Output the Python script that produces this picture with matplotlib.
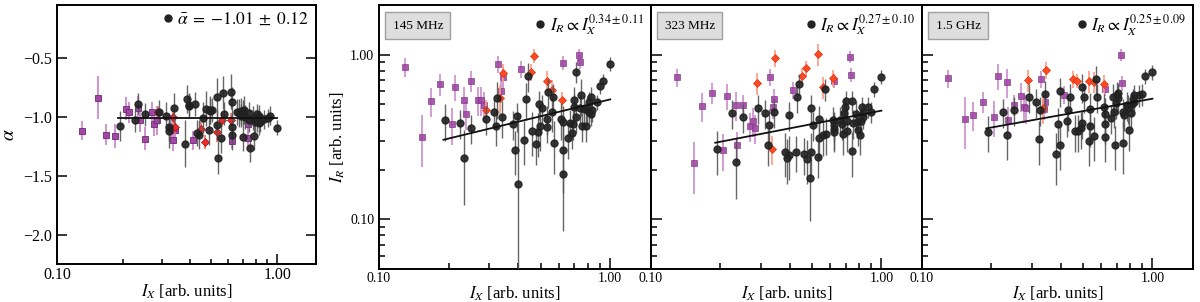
import numpy as np
import matplotlib.pyplot as plt
from matplotlib.ticker import FixedLocator, LogLocator, NullFormatter, FuncFormatter, MultipleLocator

plt.rcParams['font.family'] = ['Liberation Serif', 'DejaVu Serif']
plt.rcParams['mathtext.fontset'] = 'stix'

# --- black circles: I_X and I_R at the three frequencies, spectral index
black_ix = [0.193, 0.225, 0.234, 0.250, 0.291, 0.313, 0.322, 0.324, 0.341, 0.380,
            0.389, 0.397, 0.399, 0.424, 0.430, 0.440, 0.461, 0.475, 0.488, 0.493,
            0.496, 0.505, 0.530, 0.534, 0.536, 0.558, 0.567, 0.573, 0.614, 0.623,
            0.624, 0.625, 0.659, 0.672, 0.684, 0.688, 0.697, 0.700, 0.709, 0.712,
            0.743, 0.746, 0.753, 0.773, 0.784, 0.794, 0.808, 0.813, 0.827, 0.829,
            0.835, 0.875, 0.905, 0.926, 1.00]
black_ir_145 = [0.401, 0.385, 0.236, 0.359, 0.409, 0.446, 0.371, 0.543, 0.416, 0.378,
                0.264, 0.424, 0.164, 0.305, 0.536, 0.739, 0.346, 0.285, 0.341, 0.502,
                0.371, 0.477, 0.362, 0.409, 0.593, 0.451, 0.556, 0.292, 0.407, 0.392,
                0.262, 0.189, 0.310, 0.385, 0.333, 0.379, 0.531, 0.479, 0.788, 0.416,
                0.477, 0.569, 0.371, 0.468, 0.369, 0.468, 0.518, 0.451, 0.556, 0.434,
                0.459, 0.514, 0.642, 0.692, 0.878]
black_ir_323 = [0.266, 0.442, 0.223, 0.418, 0.477, 0.442, 0.283, 0.372, 0.449, 0.258,
                0.235, 0.430, 0.246, 0.258, 0.551, 0.667, 0.249, 0.234, 0.179, 0.477,
                0.256, 0.374, 0.239, 0.409, 0.313, 0.325, 0.616, 0.328, 0.401, 0.374,
                0.341, 0.352, 0.401, 0.378, 0.328, 0.440, 0.483, 0.523, 0.396, 0.344,
                0.523, 0.260, 0.386, 0.434, 0.388, 0.349, 0.327, 0.396, 0.483, 0.440,
                0.416, 0.483, 0.451, 0.616, 0.736]
black_ir_1500 = [0.341, 0.446, 0.327, 0.461, 0.551, 0.516, 0.306, 0.461, 0.574, 0.248,
                 0.378, 0.602, 0.283, 0.394, 0.461, 0.551, 0.344, 0.344, 0.357, 0.386,
                 0.633, 0.551, 0.300, 0.466, 0.369, 0.321, 0.708, 0.551, 0.483, 0.434,
                 0.381, 0.318, 0.411, 0.551, 0.451, 0.283, 0.507, 0.569, 0.543, 0.582,
                 0.451, 0.289, 0.430, 0.495, 0.472, 0.349, 0.440, 0.499, 0.536, 0.569,
                 0.518, 0.569, 0.577, 0.742, 0.781]
black_alpha = [-1.077, -1.026, -0.887, -0.980, -0.960, -0.995, -1.088, -1.122, -0.924, -1.229,
               -0.847, -0.896, -0.910, -0.890, -1.136, -1.150, -1.008, -0.932, -1.116, -0.944,
               -0.952, -0.940, -0.834, -1.068, -1.348, -1.181, -0.796, -0.972, -0.786, -0.870,
               -1.088, -1.150, -0.962, -0.970, -0.950, -0.990, -1.170, -0.960, -0.940, -1.000,
               -0.970, -1.030, -1.263, -1.010, -1.165, -1.040, -0.980, -1.030, -0.990, -1.050,
               -1.040, -1.020, -1.010, -0.990, -1.091]
# relative errors on I_R, absolute errors on alpha
black_ferr_145 = [0.25, 0.20, 0.48, 0.20, 0.20, 0.20, 0.25, 0.25, 0.25, 0.20,
                  0.30, 0.20, 1.70, 0.30, 0.25, 0.20, 0.30, 0.25, 0.30, 0.20,
                  0.30, 0.20, 0.20, 0.20, 0.20, 0.25, 0.20, 0.35, 0.25, 0.25,
                  0.45, 0.55, 0.25, 0.20, 0.20, 0.20, 0.20, 0.20, 0.15, 0.20,
                  0.20, 0.25, 0.20, 0.20, 0.20, 0.20, 0.15, 0.15, 0.15, 0.15,
                  0.15, 0.10, 0.10, 0.10, 0.10]
black_ferr_323 = [0.30, 0.20, 0.40, 0.20, 0.20, 0.20, 0.25, 0.25, 0.20, 0.30,
                  0.30, 0.20, 0.30, 0.25, 0.20, 0.15, 0.25, 0.30, 0.45, 0.20,
                  0.30, 0.20, 0.25, 0.20, 0.25, 0.25, 0.15, 0.25, 0.20, 0.20,
                  0.25, 0.25, 0.20, 0.20, 0.25, 0.20, 0.15, 0.15, 0.20, 0.25,
                  0.15, 0.30, 0.20, 0.20, 0.20, 0.20, 0.25, 0.20, 0.15, 0.15,
                  0.15, 0.15, 0.15, 0.10, 0.10]
black_ferr_1500 = [0.25, 0.20, 0.30, 0.20, 0.20, 0.20, 0.30, 0.20, 0.20, 0.35,
                   0.25, 0.20, 0.30, 0.20, 0.25, 0.20, 0.25, 0.25, 0.25, 0.20,
                   0.20, 0.20, 0.30, 0.25, 0.25, 0.30, 0.20, 0.20, 0.20, 0.25,
                   0.25, 0.30, 0.20, 0.20, 0.20, 0.30, 0.20, 0.20, 0.20, 0.15,
                   0.20, 0.35, 0.20, 0.20, 0.20, 0.25, 0.20, 0.15, 0.15, 0.15,
                   0.15, 0.15, 0.15, 0.10, 0.10]
black_alpha_err = [0.13, 0.10, 0.09, 0.10, 0.10, 0.12, 0.12, 0.14, 0.13, 0.20,
                   0.12, 0.10, 0.10, 0.10, 0.11, 0.12, 0.13, 0.15, 0.12, 0.12,
                   0.11, 0.10, 0.16, 0.13, 0.14, 0.13, 0.14, 0.10, 0.15, 0.12,
                   0.12, 0.13, 0.11, 0.12, 0.11, 0.10, 0.12, 0.10, 0.12, 0.10,
                   0.10, 0.10, 0.12, 0.10, 0.12, 0.10, 0.09, 0.10, 0.09, 0.10,
                   0.09, 0.08, 0.08, 0.08, 0.06]

# --- purple squares
sq_ix = [0.130, 0.153, 0.167, 0.184, 0.206, 0.213, 0.233, 0.237, 0.251, 0.269,
         0.277, 0.284, 0.328, 0.338, 0.342, 0.413, 0.623, 0.733, 0.738]
sq_ir_145 = [0.846, 0.318, 0.523, 0.660, 0.379, 0.636, 0.533, 0.438, 0.695, 0.530,
             0.530, 0.495, 0.878, 0.605, 0.732, 0.815, 0.894, 1.000, 0.907]
sq_ir_323 = [0.728, 0.219, 0.490, 0.588, 0.264, 0.561, 0.492, 0.283, 0.492, 0.369,
             0.396, 0.360, 0.735, 0.479, 0.535, 0.610, 0.695, 0.972, 0.756]
sq_ir_1500 = [0.718, 0.409, 0.428, 0.518, 0.420, 0.742, 0.679, 0.401, 0.497, 0.561,
              0.479, 0.472, 0.708, 0.470, 0.516, 0.572, 0.622, 1.000, 0.670]
sq_alpha = [-1.119, -0.836, -1.150, -1.161, -0.930, -0.963, -0.927, -1.026, -1.184, -0.957,
            -1.060, -1.031, -1.094, -1.193, -1.116, -1.198, -1.201, -1.065, -1.181]
sq_ferr = [0.13, 0.35, 0.20, 0.15, 0.25, 0.18, 0.20, 0.20, 0.15, 0.20,
           0.20, 0.20, 0.12, 0.15, 0.15, 0.12, 0.10, 0.08, 0.10]
sq_alpha_err = [0.08, 0.18, 0.09, 0.10, 0.10, 0.09, 0.10, 0.10, 0.10, 0.08,
                0.10, 0.12, 0.10, 0.10, 0.10, 0.08, 0.07, 0.08, 0.09]

# --- red diamonds
dm_ix = [0.289, 0.335, 0.345, 0.453, 0.470, 0.532, 0.560, 0.618]
dm_ir_145 = [0.461, 0.543, 0.778, 0.788, 0.986, 0.692, 0.610, 0.530]
dm_ir_323 = [0.670, 0.267, 0.950, 0.742, 0.826, 1.005, 0.634, 0.718]
dm_ir_1500 = [0.702, 0.477, 0.803, 0.712, 0.692, 0.692, 0.686, 0.667]
dm_alpha = [-0.957, -1.003, -1.088, -1.102, -1.210, -1.131, -1.023, -1.029]
dm_ferr = [0.15, 0.20, 0.12, 0.12, 0.10, 0.15, 0.15, 0.12]
dm_alpha_err = [0.05, 0.08, 0.06, 0.06, 0.06, 0.08, 0.06, 0.06]

# --- fits
freq_labels = ['145 MHz', '323 MHz', '1.5 GHz']
fit_norm = [0.535, 0.457, 0.540]
fit_slope = [0.34, 0.27, 0.25]
fit_slope_err = [0.11, 0.10, 0.09]
fit_range = [0.19, 1.0]
alpha_mean = -1.01
alpha_scatter = 0.12

BLACK = '#222222'
BLACK_E = '#555555'
PURPLE = '#a346a8'
PURPLE_E = '#c98acb'

fig = plt.figure(figsize=(12, 3.02), dpi=100)
W, H = 1200.0, 302.0
ax0 = fig.add_axes([57 / W, 1 - 264 / H, 259 / W, 259 / H])
axes = [fig.add_axes([l / W, 1 - 269 / H, w / W, 264 / H])
        for l, w in ((379, 272), (651, 271), (922, 271))]


def style_spines(ax):
    for s in ax.spines.values():
        s.set_linewidth(1.4)


def log_x(ax):
    ax.set_xscale('log')
    ax.set_xlim(0.1, 1.5)
    ax.xaxis.set_major_locator(FixedLocator([0.1, 1.0]))
    ax.xaxis.set_major_formatter(FuncFormatter(lambda v, p: '%.2f' % v))
    ax.xaxis.set_minor_locator(LogLocator(base=10, subs=np.arange(2, 10)))
    ax.xaxis.set_minor_formatter(NullFormatter())


# ---------------- left panel: spectral index
ax0.errorbar(sq_ix, sq_alpha, yerr=sq_alpha_err, fmt='s', ms=4.5, mfc=PURPLE, mec='#6e2a70',
             mew=0.6, ecolor=PURPLE_E, elinewidth=1.3, capsize=0, zorder=2)
ax0.errorbar(dm_ix, dm_alpha, yerr=dm_alpha_err, fmt='D', ms=3.8, mfc='#ec2a2a', mec='#a01010',
             mew=0.5, ecolor='#f07070', elinewidth=1.2, capsize=0, zorder=3)
ax0.errorbar(black_ix, black_alpha, yerr=black_alpha_err, fmt='o', ms=5, mfc=BLACK, mec=BLACK,
             ecolor=BLACK_E, elinewidth=1.0, capsize=0, alpha=0.9, zorder=4)
ax0.plot(fit_range, [alpha_mean, alpha_mean], color='#111111', lw=1.3, zorder=5)
ax0.plot([], [], 'o', ms=5, color=BLACK,
         label=r'$\bar{\alpha}\;=\;{%.2f}\;\pm\;%.2f$' % (alpha_mean, alpha_scatter))
ax0.legend(loc='upper right', frameon=False, fontsize=12.5, handlelength=0.6,
           handletextpad=0.25, borderaxespad=0.1, borderpad=0.3)
log_x(ax0)
ax0.set_ylim(-2.25, -0.05)
ax0.yaxis.set_major_locator(MultipleLocator(0.5))
ax0.yaxis.set_major_formatter(FuncFormatter(lambda v, p: ('%.1f' % v).replace('-', '\u2212')))
ax0.tick_params(which='both', direction='in', top=False, right=True, labelsize=11.5, width=1.1)
ax0.tick_params(which='major', length=7)
ax0.tick_params(which='minor', length=3.5)
ax0.tick_params(axis='x', pad=2)
ax0.set_xlabel(r'$I_X$ [arb. units]', fontsize=12, labelpad=0)
ax0.set_ylabel(r'$\alpha$', fontsize=14, labelpad=4)
style_spines(ax0)

# ---------------- right panels: radio vs X-ray
panel_sets = [
    (black_ir_145, black_ferr_145, sq_ir_145, dm_ir_145),
    (black_ir_323, black_ferr_323, sq_ir_323, dm_ir_323),
    (black_ir_1500, black_ferr_1500, sq_ir_1500, dm_ir_1500),
]
for i, ax in enumerate(axes):
    b_ir, b_ferr, s_ir, d_ir = panel_sets[i]
    ax.set_yscale('log')
    ax.errorbar(sq_ix, s_ir, yerr=np.array(sq_ferr) * np.array(s_ir), fmt='s', ms=4.5,
                mfc=PURPLE, mec='#7a3a7c', mew=0.5, ecolor=PURPLE_E, elinewidth=1.3,
                capsize=0, alpha=0.9, zorder=2)
    ax.errorbar(dm_ix, d_ir, yerr=np.array(dm_ferr) * np.array(d_ir), fmt='D', ms=3.8,
                mfc='#ff4a22', mec='#e03010', mew=0.5, ecolor='#ff9a80', elinewidth=1.2,
                capsize=0, zorder=3)
    ax.errorbar(black_ix, b_ir, yerr=np.array(b_ferr) * np.array(b_ir), fmt='o', ms=5,
                mfc=BLACK, mec=BLACK, ecolor=BLACK_E, elinewidth=1.0, capsize=0,
                alpha=0.9, zorder=4)
    xf = np.array(fit_range)
    ax.plot(xf, fit_norm[i] * xf ** fit_slope[i], color='#111111', lw=1.3, zorder=5)
    ax.plot([], [], 'o', ms=5, color=BLACK,
            label=r'$I_R\propto I_X^{%.2f\pm%.2f}$' % (fit_slope[i], fit_slope_err[i]))
    ax.legend(loc='upper right', frameon=False, fontsize=12.5, handlelength=0.6,
              handletextpad=0.25, borderaxespad=0.1, borderpad=0.3)
    ax.text(0.05, 0.945, freq_labels[i], transform=ax.transAxes, ha='left', va='top',
            fontsize=9.5, bbox=dict(boxstyle='square,pad=0.55', fc='#dedede', ec='#a0a0a0', lw=1))
    log_x(ax)
    ax.set_ylim(0.05, 2.0)
    ax.yaxis.set_major_locator(FixedLocator([0.1, 1.0]))
    ax.yaxis.set_major_formatter(FuncFormatter(lambda v, p: '%.2f' % v))
    ax.yaxis.set_minor_locator(LogLocator(base=10, subs=np.arange(2, 10)))
    ax.yaxis.set_minor_formatter(NullFormatter())
    ax.tick_params(which='both', direction='in', top=False, right=False, labelsize=10, width=1.1)
    ax.tick_params(which='major', length=8)
    ax.tick_params(which='minor', length=4.5)
    ax.tick_params(axis='x', pad=2)
    ax.set_xlabel(r'$I_X$ [arb. units]', fontsize=12, labelpad=0)
    if i == 0:
        ax.set_ylabel(r'$I_R$ [arb. units]', fontsize=12, labelpad=2)
    else:
        ax.tick_params(axis='y', which='both', labelleft=False)
    style_spines(ax)

fig.savefig('out.png', dpi=100)
